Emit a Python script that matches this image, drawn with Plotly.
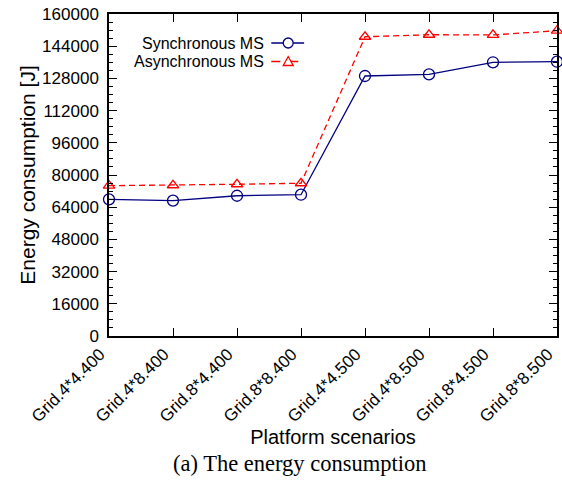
import plotly.graph_objects as go

categories = ["Grid.4*4.400", "Grid.4*8.400", "Grid.8*4.400", "Grid.8*8.400",
              "Grid.4*4.500", "Grid.4*8.500", "Grid.8*4.500", "Grid.8*8.500"]
sync_ms = [67900, 67300, 69700, 70200, 129200, 130000, 136000, 136300]
async_ms = [74700, 74900, 75400, 75900, 148700, 149700, 149600, 151700]
series_names = ["Synchronous MS", "Asynchronous MS"]
y_ticks = list(range(0, 160001, 16000))

SYNC_COLOR = "#000080"
ASYNC_COLOR = "#ff0000"
FONT = "Liberation Sans, Arial, sans-serif"

fig = go.Figure()
fig.add_trace(go.Scatter(
    x=list(range(len(categories))), y=sync_ms, name=series_names[0],
    mode="lines+markers", cliponaxis=False,
    line=dict(color=SYNC_COLOR, width=1.3),
    marker=dict(symbol="circle-open", size=11, color=SYNC_COLOR, line=dict(width=1.3)),
    showlegend=False))
fig.add_trace(go.Scatter(
    x=list(range(len(categories))), y=async_ms, name=series_names[1],
    mode="lines+markers", cliponaxis=False,
    line=dict(color=ASYNC_COLOR, width=1.3, dash="6px,4px"),
    marker=dict(symbol="triangle-up-open", size=10, color=ASYNC_COLOR, line=dict(width=1.3)),
    showlegend=False))

# plot area geometry in pixels (for the hand-drawn gnuplot-style legend)
L, R, T, B = 109, 559, 14, 336
W, H = 562, 486
pw, ph = R - L, B - T

def px(x):
    return (x - L) / pw

def py(y):
    return (B - y) / ph

shapes = []
annotations = []
rows = [(43, series_names[0], SYNC_COLOR, "solid", "circle"),
        (61.5, series_names[1], ASYNC_COLOR, "dash", "triangle")]
for yy, name, col, dash, sym in rows:
    annotations.append(dict(x=px(266), y=py(yy), xref="paper", yref="paper",
                            text=name, showarrow=False, xanchor="right", yanchor="middle",
                            borderpad=0,
                            font=dict(family=FONT, size=16, color="black")))
    shapes.append(dict(type="line", xref="paper", yref="paper",
                       x0=px(272), x1=px(305), y0=py(yy), y1=py(yy),
                       line=dict(color=col, width=1.3, dash=dash)))
    cx = 289
    if sym == "circle":
        r = 5
        shapes.append(dict(type="circle", xref="paper", yref="paper",
                           x0=px(cx - r), x1=px(cx + r), y0=py(yy + r), y1=py(yy - r),
                           line=dict(color=col, width=1.3), fillcolor="white"))
    else:
        path = "M {:.5f},{:.5f} L {:.5f},{:.5f} L {:.5f},{:.5f} Z".format(
            px(cx - 5), py(yy + 4), px(cx + 5), py(yy + 4), px(cx), py(yy - 5))
        shapes.append(dict(type="path", xref="paper", yref="paper", path=path,
                           line=dict(color=col, width=1.3), fillcolor="white"))

annotations.append(dict(x=px(300), xref="paper", y=-(463 - B) / ph, yref="paper",
                        xanchor="center", yanchor="middle", showarrow=False,
                        text="(a) The energy consumption",
                        font=dict(family="Liberation Serif, serif", size=22.5, color="black")))

fig.update_layout(
    width=W, height=H,
    margin=dict(l=L, r=W - R, t=T, b=H - B),
    paper_bgcolor="white", plot_bgcolor="white",
    font=dict(family=FONT, size=17, color="black"),
    shapes=shapes, annotations=annotations,
    xaxis=dict(
        tickmode="array", tickvals=list(range(len(categories))), ticktext=categories,
        range=[0, len(categories) - 1], tickangle=-45,
        ticks="inside", ticklen=8, tickwidth=1, tickcolor="black",
        showline=True, linecolor="black", linewidth=1.5, mirror="ticks",
        showgrid=False, zeroline=False, ticklabeloverflow="allow",
        ticklabelshift=-9,
        tickfont=dict(family=FONT, size=17),
        title=dict(text="Platform scenarios", font=dict(family=FONT, size=20), standoff=4),
    ),
    yaxis=dict(
        range=[0, 160000], tickmode="array", tickvals=y_ticks,
        ticktext=[str(v) for v in y_ticks],
        ticks="inside", ticklen=8, tickwidth=1, tickcolor="black",
        minor=dict(dtick=4000, ticks="inside", ticklen=4, tickcolor="black", tickwidth=1),
        showline=True, linecolor="black", linewidth=1.5, mirror="ticks",
        showgrid=False, zeroline=False, ticklabelstandoff=5,
        tickfont=dict(family=FONT, size=17),
        title=dict(text="Energy consumption [J]", font=dict(family=FONT, size=21), standoff=1),
    ),
)

fig.write_html("out.html")
